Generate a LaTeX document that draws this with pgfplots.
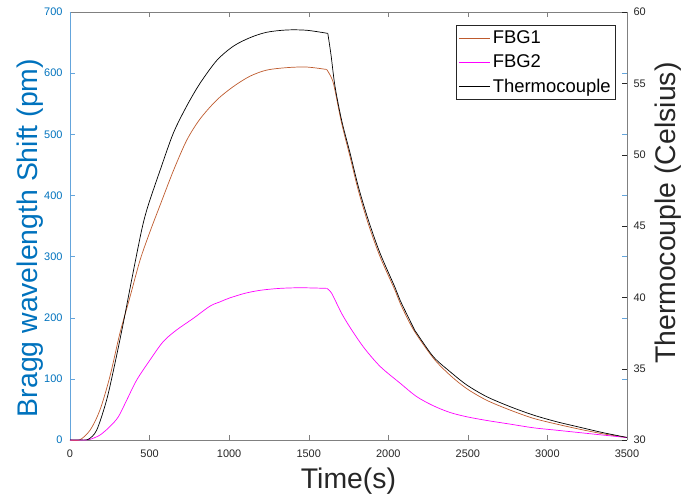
\documentclass[border=0pt]{standalone}
\usepackage{fontspec}
\setmainfont{Liberation Sans}
\usepackage{pgfplots}
\pgfplotsset{compat=1.18}
\definecolor{mblue}{RGB}{0,114,189}
\definecolor{lblue}{RGB}{100,165,220}
\definecolor{axgray}{RGB}{128,128,128}
\definecolor{txtgray}{RGB}{38,38,38}
\definecolor{fbgone}{RGB}{190,90,45}
\definecolor{mag}{RGB}{255,0,255}
\begin{document}
\begin{tikzpicture}
\useasboundingbox (-70bp,-58bp) rectangle (614bp,440bp);
\pgfplotsset{
  common/.style={width=557bp,height=428bp,scale only axis,
    xmin=0,xmax=3500,tick align=inside,major tick length=5bp,
    /pgf/number format/assume math mode=true,
    /pgf/number format/set thousands separator={},
    tick label style={font=\fontsize{11}{13}\selectfont},
    xtick={0,500,...,3500},
    x tick label style={color=txtgray,yshift=-6bp}},
}
\begin{axis}[common,
  ymin=0,ymax=700,ytick={0,100,...,700},
  separate axis lines,
  x axis line style={color=axgray},
  y axis line style={color=lblue},
  xtick style={color=axgray},
  ytick style={color=lblue},
  y tick label style={color=mblue,xshift=-4bp},
  ylabel={Bragg wavelength Shift (pm)},
  ylabel style={at={(axis description cs:-0.0718,0.472)},anchor=center,color=mblue,font=\fontsize{28.5}{32}\selectfont},
  xlabel={Time(s)},
  xlabel style={at={(axis description cs:0.5,-0.0958)},anchor=center,color=txtgray,font=\fontsize{28.5}{32}\selectfont},
]
\addplot[fbgone,line width=0.7bp,smooth] coordinates {
(0,0) (60,0) (126,16) (188,49) (251,104) (314,175) (377,234) (440,294) (503,341)
(566,384) (649,440) (733,490) (817,525) (922,556) (1026,578) (1131,595) (1236,605)
(1362,609) (1487,610) (1613,606)
};
\addplot[fbgone,line width=0.7bp,smooth] coordinates {
(1613,606) (1632,598) (1650,588) (1665,572) (1707,518) (1760,463)
(1812,408) (1875,353) (1948,300) (2042,245) (2074,224) (2157,181) (2283,134) (2388,106)
(2493,84) (2618,65) (2765,49) (2911,35.5) (3058,26) (3205,17.5) (3351,10) (3500,4)
};
\addplot[mag,line width=0.7bp,smooth] coordinates {
(0,0) (100,0) (126,1) (188,8) (251,22) (304,38) (356,65) (419,98) (503,131)
(586,161) (670,180) (775,199) (880,219) (943,226) (1000,232) (1100,240) (1200,245)
(1320,248) (1450,249) (1613,248)
};
\addplot[mag,line width=0.7bp,smooth] coordinates {
(1613,248) (1644,240) (1707,207) (1770,180) (1850,150)
(1950,120) (2074,93) (2178,71) (2283,56) (2388,45) (2493,38) (2618,32) (2765,26)
(2911,20) (3058,16) (3205,12) (3351,8) (3500,4)
};
\end{axis}
\begin{axis}[common,
  axis y line*=right, axis x line=none,
  ymin=30,ymax=60,ytick={30,35,...,60},
  y axis line style={color=axgray},
  ytick style={color=txtgray},
  y tick label style={color=txtgray,xshift=3bp},
  ylabel={Thermocouple (Celsius)},
  ylabel style={at={(axis description cs:1.0736,0.53)},anchor=center,color=txtgray,font=\fontsize{28.5}{32}\selectfont},
  legend style={at={(axis description cs:0.98,0.97)},anchor=north east,
    draw=txtgray,line width=0.5bp,font=\fontsize{18.5}{21}\selectfont,text=black,
    inner xsep=3bp,inner ysep=4bp,row sep=5.5bp},
  legend cell align=left,
  legend image code/.code={\draw[#1,line width=0.8bp] (0bp,0bp) -- (31bp,0bp);},
]
\addlegendimage{fbgone}
\addlegendentry{FBG1}
\addlegendimage{mag}
\addlegendentry{FBG2}
\addplot[black,line width=0.7bp,smooth] coordinates {
(0,30) (60,30) (115,30.05) (168,30.7) (230,32.8) (283,35.4) (335,38.2) (387,41.2)
(450,44.7) (490,46.4) (566,48.9) (649,51.5) (733,53.4) (817,55.0) (922,56.6)
(1026,57.6) (1131,58.2) (1236,58.58) (1362,58.74) (1487,58.72) (1620,58.5)
};
\addlegendentry{Thermocouple}
\addplot[black,line width=0.7bp,smooth,forget plot] coordinates {
(1620,58.5) (1640,57.0) (1665,54.8) (1707,52.4) (1760,50.1) (1812,47.75) (1875,45.4)
(1948,43.1) (2042,40.7) (2074,39.8) (2157,37.9) (2178,37.5) (2283,35.84)
(2388,34.79) (2493,33.86) (2618,33.04) (2765,32.34) (2911,31.75) (3058,31.28)
(3205,30.89) (3351,30.51) (3500,30.18)
};
\end{axis}
\end{tikzpicture}
\end{document}
